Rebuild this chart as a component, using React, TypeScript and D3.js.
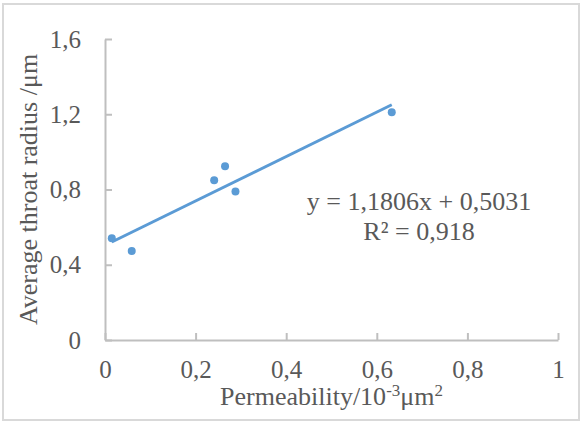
import React, {useEffect, useRef} from 'react';
import * as d3 from 'd3';

// permeability (10^-3 μm²) vs average throat radius (μm)
const permeability = [0.015, 0.059, 0.241, 0.265, 0.288, 0.633];
const throatRadius = [0.541, 0.473, 0.849, 0.923, 0.79, 1.21];
const xTicks = [0, 0.2, 0.4, 0.6, 0.8, 1];
const yTicks = [0, 0.4, 0.8, 1.2, 1.6];
const fitSlope = 1.1806;
const fitIntercept = 0.5031;
const fitR2 = '0,918';

const W = 585;
const H = 424;
const FONT = '"Liberation Serif", "Times New Roman", serif';
const fmt = (v: number) => String(v).replace('.', ',');

const App: React.FC = () => {
  const ref = useRef<SVGSVGElement | null>(null);

  useEffect(() => {
    if (!ref.current) return;
    const svg = d3.select(ref.current);
    svg.selectAll('*').remove();

    const x = d3.scaleLinear().domain([0, 1]).range([105, 558]);
    const y = d3.scaleLinear().domain([0, 1.6]).range([340, 39]);

    svg
      .append('rect')
      .attr('x', 3)
      .attr('y', 4)
      .attr('width', 576)
      .attr('height', 416)
      .attr('fill', '#fff')
      .attr('stroke', '#d9d9d9')
      .attr('stroke-width', 2);

    const axisColor = '#bfbfbf';
    const textColor = '#595959';

    // x axis, ticks pointing up
    const gx = svg
      .append('g')
      .attr('transform', `translate(0,${y(0)})`)
      .call(
        d3
          .axisBottom(x)
          .tickValues(xTicks)
          .tickSizeInner(-7)
          .tickSizeOuter(0)
          .tickPadding(20)
          .tickFormat((d) => fmt(d as number))
      );
    // y axis, ticks pointing right
    const gy = svg
      .append('g')
      .attr('transform', `translate(${x(0)},0)`)
      .call(
        d3
          .axisLeft(y)
          .tickValues(yTicks)
          .tickSizeInner(-7)
          .tickSizeOuter(0)
          .tickPadding(24)
          .tickFormat((d) => fmt(d as number))
      );
    [gx, gy].forEach((g) => {
      g.attr('font-family', FONT);
      g.select('.domain').attr('stroke', axisColor).attr('stroke-width', 2);
      g.selectAll('.tick line').attr('stroke', axisColor).attr('stroke-width', 2);
      g.selectAll('.tick text')
        .attr('fill', textColor)
        .style('font-family', FONT)
        .style('font-size', '25px');
    });

    // trend line
    const [xmin, xmax] = d3.extent(permeability) as [number, number];
    svg
      .append('line')
      .attr('x1', x(xmin))
      .attr('y1', y(fitSlope * xmin + fitIntercept))
      .attr('x2', x(xmax))
      .attr('y2', y(fitSlope * xmax + fitIntercept))
      .attr('stroke', '#5b9bd5')
      .attr('stroke-width', 3);

    svg
      .append('g')
      .selectAll('circle')
      .data(permeability.map((p, i) => [p, throatRadius[i]]))
      .join('circle')
      .attr('cx', (d) => x(d[0]))
      .attr('cy', (d) => y(d[1]))
      .attr('r', 4)
      .attr('fill', '#5b9bd5');

    // equation label
    const eq = svg
      .append('text')
      .attr('text-anchor', 'middle')
      .attr('fill', textColor)
      .style('font-family', FONT)
      .style('font-size', '26px');
    eq.append('tspan')
      .attr('x', 419)
      .attr('y', 210)
      .text(`y = ${fmt(fitSlope)}x + ${fmt(fitIntercept)}`);
    eq.append('tspan').attr('x', 419).attr('y', 240).text(`R² = ${fitR2}`);

    // axis titles
    const xt = svg
      .append('text')
      .attr('x', (x(0) + x(1)) / 2)
      .attr('y', 405)
      .attr('text-anchor', 'middle')
      .attr('fill', textColor)
      .style('font-family', FONT)
      .style('font-size', '26px');
    xt.append('tspan').text('Permeability/10');
    xt.append('tspan').attr('dy', -9).style('font-size', '17px').text('-3');
    xt.append('tspan').attr('dy', 9).text('μm');
    xt.append('tspan').attr('dy', -9).style('font-size', '17px').text('2');

    svg
      .append('text')
      .attr('transform', `translate(37,${(y(0) + y(1.6)) / 2}) rotate(-90)`)
      .attr('text-anchor', 'middle')
      .attr('fill', textColor)
      .style('font-family', FONT)
      .style('font-size', '26px')
      .text('Average throat radius /μm');
  }, []);

  return (
    <svg
      ref={ref}
      width={W}
      height={H}
      style={{position: 'absolute', left: 0, top: 0, background: '#fff'}}
    ></svg>
  );
};

export default App;
